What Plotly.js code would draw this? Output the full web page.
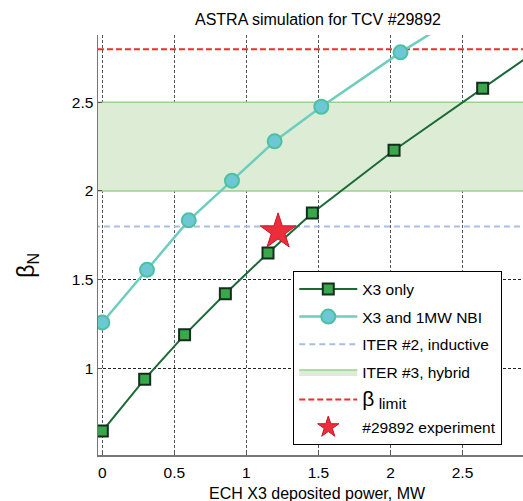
<!DOCTYPE html>
<html>
<head>
<meta charset="utf-8">
<script src="https://cdn.plot.ly/plotly-3.0.1.min.js"></script>
<style>html,body{margin:0;padding:0;background:#fff;}#chart{width:523px;height:501px;}</style>
</head>
<body>
<div id="chart"></div>
<script>
// ---- data ----
var x3Power = [0, 0.294, 0.571, 0.854, 1.15, 1.458, 2.025, 2.64, 3.1];
var x3Beta  = [0.645, 0.938, 1.188, 1.42, 1.65, 1.876, 2.23, 2.58, 2.84];
var nbiPower = [0, 0.31, 0.60, 0.90, 1.196, 1.52, 2.07, 2.5];
var nbiBeta  = [1.258, 1.555, 1.834, 2.058, 2.28, 2.475, 2.782, 3.0];
var iter2Beta = 1.8;
var iter3Band = [2.0, 2.5];
var betaLimit = 2.8;
var expPower = [1.22];
var expBeta  = [1.77];
var xTicks = [0, 0.5, 1, 1.5, 2, 2.5];
var xTickText = ['0', '0.5', '1', '1.5', '2', '2.5'];
var yTicks = [1, 1.5, 2, 2.5];
var yTickText = ['1', '1.5', '2', '2.5'];
var legendNames = ['X3 only', 'X3 and 1MW NBI', 'ITER #2, inductive', 'ITER #3, hybrid',
  '<span style="font-size:21px">β</span><sub><span style="font-size:15.5px"> limit</span></sub>',
  '#29892 experiment'];

var xRange = [-0.03, 2.92];
var yRange = [0.51, 2.88];
var span = [xRange[0] - 1, xRange[1] + 1];

var traces = [
  {x: [span[0], span[1], span[1], span[0]], y: [iter3Band[0], iter3Band[0], iter3Band[1], iter3Band[1]],
   mode: 'lines', fill: 'toself', fillcolor: 'rgb(221,237,213)',
   line: {color: 'rgb(155,208,145)', width: 1.5}, name: legendNames[3], legendgroup: 'g4', legendrank: 4, hoverinfo: 'skip'},
  {x: span, y: [iter2Beta, iter2Beta], mode: 'lines',
   line: {color: 'rgb(168,190,230)', width: 2, dash: '6px,4px'}, name: legendNames[2], legendgroup: 'g3', legendrank: 3},
  {x: span, y: [betaLimit, betaLimit], mode: 'lines',
   line: {color: 'rgb(240,45,40)', width: 2, dash: '6px,3px'}, name: legendNames[4], legendgroup: 'g5', legendrank: 5},
  {x: nbiPower, y: nbiBeta, mode: 'lines+markers',
   line: {color: 'rgb(110,205,190)', width: 2.5},
   marker: {symbol: 'circle', size: 14, color: 'rgb(108,200,212)', line: {color: 'rgb(78,192,160)', width: 2}},
   name: legendNames[1], legendgroup: 'g2', legendrank: 2},
  {x: x3Power, y: x3Beta, mode: 'lines+markers',
   line: {color: 'rgb(26,105,55)', width: 2},
   marker: {symbol: 'square', size: 11, color: 'rgb(58,168,74)', line: {color: 'rgb(20,45,28)', width: 2}},
   name: legendNames[0], legendgroup: 'g1', legendrank: 1},
  {x: expPower, y: expBeta, mode: 'markers',
   marker: {symbol: 'star', size: 27, color: 'rgb(235,45,60)', line: {color: 'rgb(200,25,40)', width: 1}},
   name: legendNames[5], legendgroup: 'g6', legendrank: 6}
];

var layout = {
  width: 523, height: 501,
  margin: {l: 98, r: 0, t: 35, b: 46, pad: 0},
  paper_bgcolor: '#fff', plot_bgcolor: '#fff',
  font: {family: '"Liberation Sans", Arial, Helvetica, sans-serif', size: 15, color: '#000'},
  title: {text: 'ASTRA simulation for TCV #29892', font: {size: 16, color: '#000'},
          x: 318 / 523, xanchor: 'center', xref: 'container', y: 1 - 19 / 501, yanchor: 'middle', yref: 'container'},
  xaxis: {range: xRange, tickvals: xTicks, ticktext: xTickText, showgrid: true,
          gridcolor: '#555', griddash: '3px,2px', gridwidth: 1.3, zeroline: false,
          showline: true, linecolor: '#777', linewidth: 1.5, ticks: 'inside', ticklen: 4, tickcolor: '#555',
          tickfont: {size: 15.5}, ticklabelstandoff: 3, fixedrange: true},
  yaxis: {range: yRange, tickvals: yTicks, ticktext: yTickText, showgrid: true,
          gridcolor: '#222', griddash: '3px,2px', gridwidth: 1, zeroline: false,
          showline: true, linecolor: '#777', linewidth: 1.5, ticks: 'inside', ticklen: 4, tickcolor: '#555',
          tickfont: {size: 15.5}, fixedrange: true},
  legend: {x: 0.459, y: 0.4377, xanchor: 'left', yanchor: 'top', bgcolor: '#fff',
           bordercolor: '#000', borderwidth: 1.2, font: {size: 15.5}, itemwidth: 58,
           entrywidth: 150, entrywidthmode: 'pixels',
           tracegroupgap: 4.5, traceorder: 'grouped'},
  annotations: [
    {text: 'β<sub>N</sub>', textangle: -90, xref: 'paper', yref: 'paper',
     x: (28 - 98.3) / 424.7, y: (454.7 - 265) / 419.7, xanchor: 'center', yanchor: 'middle',
     showarrow: false, font: {size: 23}},
    {text: 'ECH X3 deposited power, MW', xref: 'paper', yref: 'paper',
     x: (317.5 - 98.3) / 424.7, y: (454.7 - 492.7) / 419.7, xanchor: 'center', yanchor: 'middle',
     showarrow: false, font: {size: 16}}
  ],
  showlegend: true
};

Plotly.newPlot('chart', traces, layout, {displayModeBar: false, staticPlot: true});
</script>
</body>
</html>
